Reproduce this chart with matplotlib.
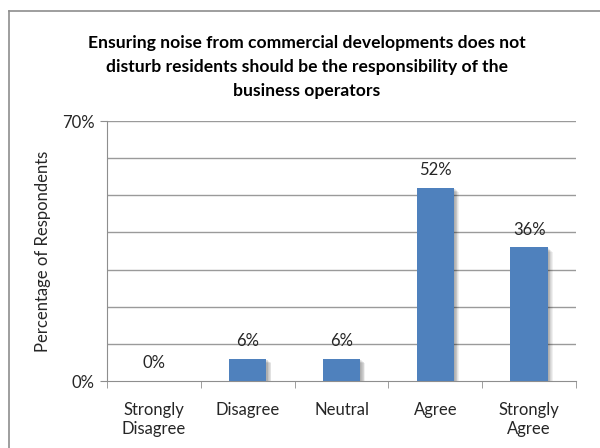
import matplotlib
matplotlib.use("Agg")
import matplotlib.pyplot as plt
from matplotlib.patches import Rectangle
from matplotlib.lines import Line2D
import numpy as np

categories = ["Strongly\nDisagree", "Disagree", "Neutral", "Agree", "Strongly\nAgree"]
values = [0, 6, 6, 52, 36]
value_labels = ["0%", "6%", "6%", "52%", "36%"]
title = ("Ensuring noise from commercial developments does not\n"
         "disturb residents should be the responsibility of the\n"
         "business operators")
ylabel = "Percentage of Respondents"

plt.rcParams["font.family"] = ["Lato", "DejaVu Sans"]
FS = 12
TXT = "#262626"

fig = plt.figure(figsize=(6.0, 4.48), dpi=100)
fig.patch.set_facecolor("white")

# chart frame (top and left edges visible)
fig.add_artist(Line2D([9/600, 1.0], [1 - 11/448, 1 - 11/448], transform=fig.transFigure,
                      color="#8e8e8e", lw=1.2))
fig.add_artist(Line2D([9/600, 9/600], [0.0, 1 - 11/448], transform=fig.transFigure,
                      color="#8e8e8e", lw=1.2))

ax = fig.add_axes([107/600, 1 - 381/448, (576 - 107)/600, (381 - 121)/448])
x = np.arange(len(categories))
bar_w = 0.4
bar_color = "#4F81BD"

# soft drop shadow behind bars
for i, v in enumerate(values):
    if v <= 0:
        continue
    for k in range(6):
        dx = 0.012 + 0.008 * k
        dy = 0.25 + 0.18 * k
        ax.add_patch(Rectangle((x[i] - bar_w/2 + dx, -dy), bar_w, v,
                               facecolor="black", alpha=0.06, lw=0, zorder=2))

ax.bar(x, values, width=bar_w, color=bar_color, zorder=3)

for i, (v, lab) in enumerate(zip(values, value_labels)):
    ax.annotate(lab, (x[i], v), xytext=(0, 7), textcoords="offset points",
                ha="center", va="bottom", fontsize=FS, color=TXT)

ax.set_xlim(-0.5, len(categories) - 0.5)
ax.set_ylim(0, 70)
ax.set_yticks([0, 70])
ax.set_yticklabels(["0%", "70%"], fontsize=FS, color=TXT)
for g in range(10, 71, 10):
    ax.axhline(g, color="#9a9a9a", lw=1.0, zorder=1)

ax.set_xticks(x)
ax.set_xticklabels(categories, fontsize=FS, color=TXT, linespacing=1.25)
ax.set_xticks(np.arange(-0.5, len(categories)), minor=True)
ax.tick_params(axis="x", which="major", length=0, pad=15)
ax.tick_params(axis="x", which="minor", length=5, color="#8e8e8e", direction="out")
ax.tick_params(axis="y", length=5, color="#8e8e8e", direction="out", pad=4)

for side in ["top", "right"]:
    ax.spines[side].set_visible(False)
ax.spines["left"].set_color("#8e8e8e")
ax.spines["bottom"].set_color("#8e8e8e")

ax.set_ylabel(ylabel, fontsize=FS, color=TXT, labelpad=8)

fig.text(307/600, 1 - 35/448, title, ha="center", va="top", fontsize=12.6,
         fontweight="bold", color="black", linespacing=1.62)

fig.savefig("out.png", dpi=100, facecolor="white")
